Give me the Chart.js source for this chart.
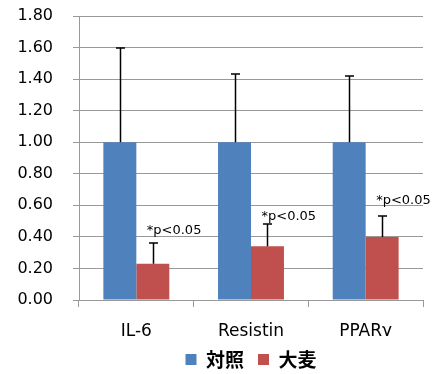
<!DOCTYPE html>
<html>
<head>
<meta charset="utf-8">
<script src="https://cdn.jsdelivr.net/npm/chart.js@4"></script>
<style>
  html, body { margin: 0; padding: 0; background: #fff; }
  #wrap { width: 432px; height: 374px; }
</style>
</head>
<body>
<div id="wrap"><canvas id="chart" width="432" height="374"></canvas></div>
<script>
// valores
var categories = ['IL-6', 'Resistin', 'PPARγ'];
var seriesNames = ['対照', '大麦'];
var controlValues = [1.00, 1.00, 1.00];
var barleyValues = [0.23, 0.34, 0.40];
var controlErr = [0.60, 0.43, 0.42];
var barleyErr = [0.13, 0.14, 0.13];
var sigLabels = ['*p<0.05', '*p<0.05', '*p<0.05'];
var sigLabelY = [0.44, 0.53, 0.63];

var errors = [controlErr, barleyErr];

// barras de erro (só para cima) + rótulos de significância
var errorBars = {
  id: 'errorBars',
  afterDatasetsDraw: function (chart) {
    var ctx = chart.ctx;
    var y = chart.scales.y;
    ctx.save();
    ctx.strokeStyle = '#000';
    ctx.lineWidth = 1.5;
    chart.data.datasets.forEach(function (ds, di) {
      var meta = chart.getDatasetMeta(di);
      meta.data.forEach(function (bar, i) {
        var x = Math.round(bar.x) + 0.5;
        var y0 = y.getPixelForValue(ds.data[i]);
        var y1 = Math.round(y.getPixelForValue(ds.data[i] + errors[di][i]));
        ctx.beginPath();
        ctx.moveTo(x, y0);
        ctx.lineTo(x, y1);
        ctx.moveTo(x - 4.5, y1);
        ctx.lineTo(x + 4.5, y1);
        ctx.stroke();
      });
    });
    var meta1 = chart.getDatasetMeta(1);
    ctx.fillStyle = '#000';
    ctx.font = '13px "DejaVu Sans"';
    ctx.textAlign = 'left';
    ctx.textBaseline = 'middle';
    meta1.data.forEach(function (bar, i) {
      ctx.fillText(sigLabels[i], bar.x - 6, y.getPixelForValue(sigLabelY[i]));
    });
    ctx.restore();
  }
};

new Chart(document.getElementById('chart'), {
  type: 'bar',
  data: {
    labels: categories,
    datasets: [
      { label: seriesNames[0], data: controlValues, backgroundColor: '#4F81BD', borderWidth: 0, categoryPercentage: 0.575, barPercentage: 1.0 },
      { label: seriesNames[1], data: barleyValues, backgroundColor: '#C0504D', borderWidth: 0, categoryPercentage: 0.575, barPercentage: 1.0 }
    ]
  },
  options: {
    responsive: false,
    animation: false,
    layout: { padding: { top: 0, right: 9, bottom: -5, left: 0 } },
    plugins: {
      legend: {
        position: 'bottom',
        fullSize: false,
        labels: {
          boxWidth: 11, boxHeight: 11, padding: 14, color: '#000',
          font: { family: '"Noto Sans CJK JP"', size: 19, weight: 'bold' }
        }
      },
      tooltip: { enabled: false }
    },
    scales: {
      x: {
        offset: true,
        afterFit: function (s) { s.height = 36; },
        grid: { offset: true, drawOnChartArea: false, drawTicks: true, tickLength: 7, color: '#999' },
        border: { color: '#999' },
        ticks: { color: '#000', padding: 14, font: { family: '"DejaVu Sans"', size: 17 } }
      },
      y: {
        min: 0, max: 1.8,
        afterFit: function (s) { s.width = 79; s.paddingTop = 16; s.paddingBottom = 0; },
        grid: { color: '#999', tickLength: 6 },
        border: { color: '#999' },
        ticks: {
          stepSize: 0.2, color: '#000', padding: 20,
          font: { family: '"DejaVu Sans"', size: 16 },
          callback: function (v) { return v.toFixed(2); }
        }
      }
    }
  },
  plugins: [errorBars]
});
</script>
</body>
</html>
